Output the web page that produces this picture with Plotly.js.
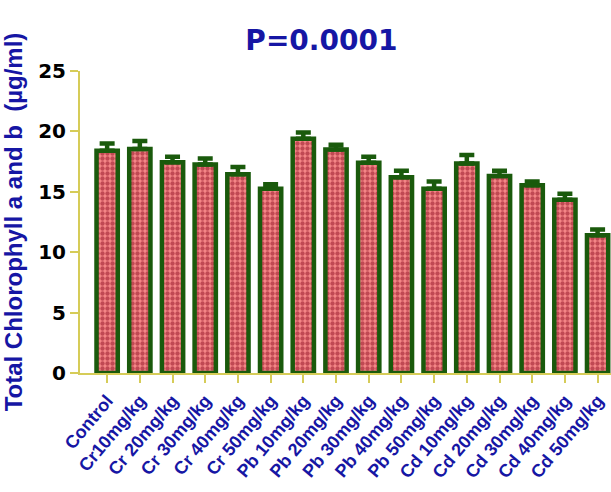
<!DOCTYPE html>
<html>
<head>
<meta charset="utf-8">
<script src="https://cdn.plot.ly/plotly-3.0.1.min.js"></script>
<style>html,body{margin:0;padding:0;background:#fff;}</style>
</head>
<body>
<div id="chart" style="width:611px;height:492px;"></div>
<script>
const categories = ["Control","Cr10mg/kg","Cr 20mg/kg","Cr 30mg/kg","Cr 40mg/kg","Cr 50mg/kg",
  "Pb 10mg/kg","Pb 20mg/kg","Pb 30mg/kg","Pb 40mg/kg","Pb 50mg/kg",
  "Cd 10mg/kg","Cd 20mg/kg","Cd 30mg/kg","Cd 40mg/kg","Cd 50mg/kg"];
const chlorophyll = [18.4,18.55,17.45,17.25,16.45,15.25,19.4,18.5,17.4,16.2,15.25,17.35,16.3,15.55,14.35,11.4];
const sem = [0.6,0.65,0.45,0.5,0.6,0.37,0.5,0.4,0.5,0.55,0.6,0.7,0.45,0.3,0.48,0.48];
const zeros = sem.map(() => 0);
const yTicks = [0,5,10,15,20,25];

const green = "#1a5a0c";
const axisYellow = "#d6cc58";
const blue = "#1616a4";

const trace = {
  type: "bar",
  x: categories,
  y: chlorophyll,
  width: 0.65,
  marker: {
    color: "#f58a8a",
    line: {color: green, width: 4.5},
    pattern: {shape: ".", fgcolor: "#8a0a1e", bgcolor: "#f68888", size: 5, solidity: 0.6, fillmode: "overlay"}
  },
  error_y: {type: "data", symmetric: false, array: sem, arrayminus: zeros, color: green, thickness: 4.5, width: 7.5},
  hoverinfo: "skip"
};

const layout = {
  width: 611, height: 492,
  margin: {l: 80, r: 0, t: 71, b: 119},
  paper_bgcolor: "#fff", plot_bgcolor: "#fff",
  showlegend: false,
  title: {
    text: "<b>P=0.0001</b>",
    font: {family: "DejaVu Sans", size: 28, color: blue},
    x: 0.526, xanchor: "center", y: 0.918, yanchor: "middle"
  },
  xaxis: {
    type: "category",
    range: [-0.83, 15.41],
    showgrid: false, zeroline: false,
    showline: true, linecolor: axisYellow, linewidth: 2,
    ticks: "outside", ticklen: 8, tickwidth: 2, tickcolor: axisYellow,
    tickangle: -50,
    tickfont: {family: "Liberation Sans", size: 18, color: blue, weight: "bold"}
  },
  yaxis: {
    range: [0, 25],
    tickvals: yTicks,
    showgrid: false, zeroline: false,
    showline: true, linecolor: axisYellow, linewidth: 2,
    ticks: "outside", ticklen: 8, tickwidth: 2, tickcolor: axisYellow,
    tickfont: {family: "DejaVu Sans", size: 20, color: "#000", weight: "bold"},
    title: {
      text: "<b>Total Chlorophyll a and b\u00a0\u00a0(µg/ml)</b>",
      font: {family: "Liberation Sans", size: 24, color: blue},
      standoff: 10
    }
  }
};

Plotly.newPlot("chart", [trace], layout, {displayModeBar: false, staticPlot: true});
</script>
</body>
</html>
